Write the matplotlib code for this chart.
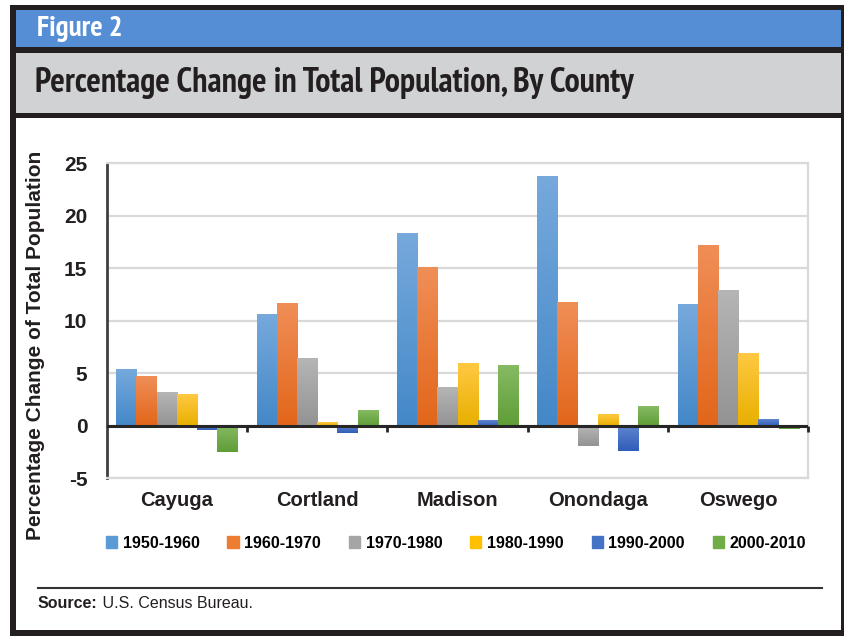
import numpy as np
import matplotlib
matplotlib.use('Agg')
import matplotlib.pyplot as plt
from matplotlib import font_manager
from matplotlib.patches import Rectangle
from matplotlib.lines import Line2D
from matplotlib.colors import LinearSegmentedColormap

# data
counties = ['Cayuga', 'Cortland', 'Madison', 'Onondaga', 'Oswego']
decades = ['1950-1960', '1960-1970', '1970-1980', '1980-1990', '1990-2000', '2000-2010']
ch_1950 = [5.4, 10.6, 18.3, 23.8, 11.6]
ch_1960 = [4.7, 11.7, 15.1, 11.8, 17.2]
ch_1970 = [3.2, 6.4, 3.7, -1.9, 12.9]
ch_1980 = [3.0, 0.3, 6.0, 1.1, 6.9]
ch_1990 = [-0.4, -0.7, 0.5, -2.4, 0.6]
ch_2000 = [-2.5, 1.5, 5.8, 1.9, -0.3]
series = [ch_1950, ch_1960, ch_1970, ch_1980, ch_1990, ch_2000]
colors = ['#5B9BD5', '#ED7D31', '#A5A5A5', '#FFC000', '#4472C4', '#70AD47']
tops = ['#76A9DC', '#F08E57', '#B5B5B5', '#FFC842', '#6186D0', '#86BA63']
bottoms = ['#4488C8', '#E2661A', '#939393', '#E8B000', '#2F5DB8', '#5E9E37']


def wnum(w):
    if isinstance(w, str):
        return font_manager.weight_dict.get(w, 400)
    return w


# look for a bold narrow face (Arial Narrow look-alike), else plain Liberation Sans
narrow, scale = 'Liberation Sans', 0.85
fonts = font_manager.fontManager.ttflist
bold_narrow = sorted({f.name for f in fonts
                      if ('Narrow' in f.name or 'Condensed' in f.name)
                      and wnum(f.weight) >= 600})
if bold_narrow:
    pref = [nm for nm in bold_narrow if 'Narrow' in nm] or bold_narrow
    narrow, scale = pref[0], 1.0
plt.rcParams['font.family'] = ['Liberation Sans', 'DejaVu Sans']
plt.rcParams['axes.unicode_minus'] = False

W, H = 844, 637
fig = plt.figure(figsize=(W / 100, H / 100), dpi=100)
fig.patch.set_facecolor('white')


def box(x0, y0, x1, y1, color):
    # pixel box, origin top-left
    fig.patches.append(Rectangle((x0 / W, 1 - y1 / H), (x1 - x0) / W, (y1 - y0) / H,
                                 transform=fig.transFigure, facecolor=color,
                                 edgecolor='none', zorder=-10))


dark = '#231F20'
box(10, 5, 844, 636, dark)
box(16, 10, 841, 47, '#558ED5')
box(16, 53, 841, 113, '#D1D2D4')
box(16, 118, 841, 630, 'white')

fig.text(37 / W, 1 - 29 / H, 'Figure 2', color='white', fontsize=21 * scale,
         family=[narrow, 'DejaVu Sans'], fontweight='bold', va='center', ha='left')
fig.text(35 / W, 1 - 83 / H, 'Percentage Change in Total Population, By County',
         color=dark, fontsize=24.5 * scale, family=[narrow, 'DejaVu Sans'],
         fontweight='bold', va='center', ha='left')

ax = fig.add_axes([106.7 / W, 1 - 478.3 / H, (808.3 - 106.7) / W, (478.3 - 163.3) / H])
ax.set_facecolor('none')

n = len(decades)
bw = 0.144
x = np.arange(len(counties))
grad = np.linspace(1, 0, 64).reshape(-1, 1)
for i, vals in enumerate(series):
    off = (i - (n - 1) / 2) * bw
    bars = ax.bar(x + off, vals, bw, color=colors[i], label=decades[i], zorder=2)
    cmap = LinearSegmentedColormap.from_list('g%d' % i, [bottoms[i], tops[i]])
    for b in bars:
        x0, y0 = b.get_x(), b.get_y()
        w, h = b.get_width(), b.get_height()
        lo, hi = min(y0, y0 + h), max(y0, y0 + h)
        ax.imshow(grad, extent=[x0, x0 + w, lo, hi], cmap=cmap, aspect='auto',
                  zorder=3, interpolation='bilinear', vmin=0, vmax=1)

ax.set_xlim(-0.5, len(counties) - 0.5)
ax.set_ylim(-5, 25)
ax.set_yticks(np.arange(-5, 26, 5))
ax.yaxis.grid(True, color='#D9D9D9', lw=1.6, zorder=0)
ax.set_axisbelow(True)
ax.axhline(0, color='#262626', lw=2.2, zorder=4)
# category boundary ticks on the zero line
bounds = np.arange(len(counties) + 1) - 0.5
ax.vlines(bounds[1:], -0.55, 0, color='#262626', lw=2, zorder=4, clip_on=False)

for s in ['top', 'right', 'bottom']:
    ax.spines[s].set_color('#D9D9D9')
    ax.spines[s].set_linewidth(1.6)
ax.spines['left'].set_color('#404040')
ax.spines['left'].set_linewidth(2)

ax.set_xticks(x)
ax.set_xticklabels(counties, fontsize=14.5, fontweight='bold', color=dark)
ax.tick_params(axis='x', length=0, pad=9)
ax.tick_params(axis='y', length=0, pad=14, labelsize=15, labelcolor=dark)
for t in ax.get_yticklabels():
    t.set_fontweight('bold')

fig.text(36 / W, 1 - 345 / H, 'Percentage Change of Total Population', rotation=90,
         fontsize=15, fontweight='bold', va='center', ha='center', color=dark)

handles = [Rectangle((0, 0), 1, 1, color=c) for c in colors]
fig.legend(handles, decades, loc='center', bbox_to_anchor=(456 / W, 1 - 543 / H),
           ncol=6, frameon=False, handlelength=0.7, handleheight=0.7,
           handletextpad=0.35, columnspacing=1.75,
           prop={'weight': 'bold', 'size': 11.5})

fig.lines.append(Line2D([38 / W, 822 / W], [1 - 588 / H, 1 - 588 / H],
                        transform=fig.transFigure, color='#333333', lw=1.5))
t1 = fig.text(38 / W, 1 - 603 / H, 'Source:', fontweight='bold', fontsize=11.5,
              va='center', ha='left', color=dark)
ax.annotate(' U.S. Census Bureau.', xy=(1, 0), xycoords=t1, va='bottom', ha='left',
            fontsize=11.5, color=dark, annotation_clip=False)

fig.savefig('out.png', dpi=100)
